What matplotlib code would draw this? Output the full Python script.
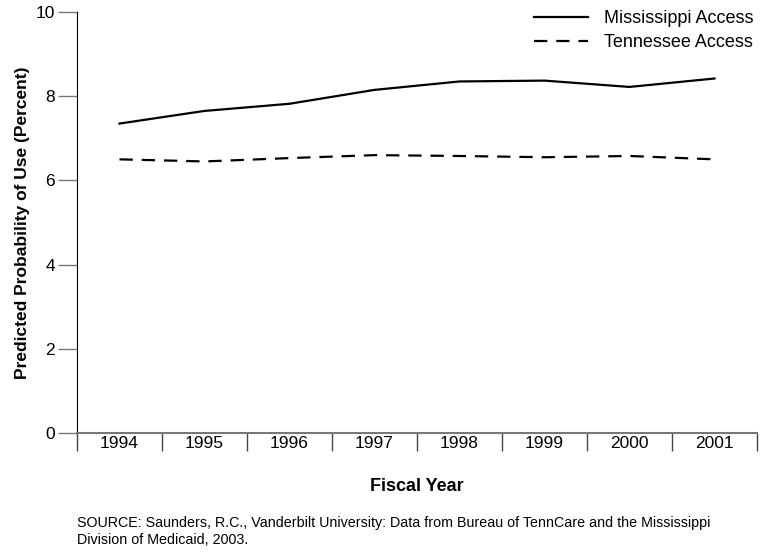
import numpy as np
import matplotlib.pyplot as plt

plt.rcParams['font.family'] = ['Liberation Sans', 'DejaVu Sans']

years = ['1994', '1995', '1996', '1997', '1998', '1999', '2000', '2001']
mississippi = [7.35, 7.65, 7.82, 8.15, 8.35, 8.37, 8.22, 8.42]
tennessee = [6.50, 6.45, 6.53, 6.60, 6.58, 6.55, 6.58, 6.50]
y_ticks = [0, 2, 4, 6, 8, 10]

fig = plt.figure(figsize=(7.64, 5.55), dpi=100)
ax = fig.add_axes([0.1008, 0.2198, 0.89, 0.7586])

# points sit in the middle of each year's slot
x = np.arange(len(years)) + 0.5
ax.plot(x, mississippi, color='black', lw=1.6, label='Mississippi Access')
ax.plot(x, tennessee, color='black', lw=1.6, linestyle=(0, (6, 4)),
        label='Tennessee Access')

ax.set_xlim(0, len(years))
ax.set_ylim(0, 10)

# slot boundaries as long ticks, year labels as invisible minor ticks
ax.set_xticks(np.arange(len(years) + 1))
ax.set_xticklabels([])
ax.set_xticks(x, minor=True)
ax.set_xticklabels(years, minor=True, fontsize=12.5)
ax.tick_params(axis='x', which='major', direction='out', length=13,
               width=1, color='#444444')
ax.tick_params(axis='x', which='minor', length=0, pad=2)

ax.set_yticks(y_ticks)
ax.set_yticklabels([str(v) for v in y_ticks], fontsize=12.5)
ax.tick_params(axis='y', direction='out', length=14, width=1,
               color='#777777', pad=2)

for side in ['top', 'right']:
    ax.spines[side].set_visible(False)
ax.spines['left'].set_color('black')
ax.spines['bottom'].set_color('#777777')
ax.spines['bottom'].set_linewidth(1.5)

ax.set_ylabel('Predicted Probability of Use (Percent)', fontsize=12.5,
              fontweight='bold', labelpad=4)
ax.set_xlabel('Fiscal Year', fontsize=13, fontweight='bold', labelpad=16)

leg = ax.legend(loc='upper right', frameon=False, fontsize=13,
                handlelength=3.0, handletextpad=0.9, labelspacing=0.4,
                bbox_to_anchor=(1.019, 1.043))

fig.text(0.1008, 0.070,
         'SOURCE: Saunders, R.C., Vanderbilt University: Data from Bureau of '
         'TennCare and the Mississippi\nDivision of Medicaid, 2003.',
         fontsize=10.3, va='top', ha='left', linespacing=1.3)

fig.savefig('out.png', dpi=100)
